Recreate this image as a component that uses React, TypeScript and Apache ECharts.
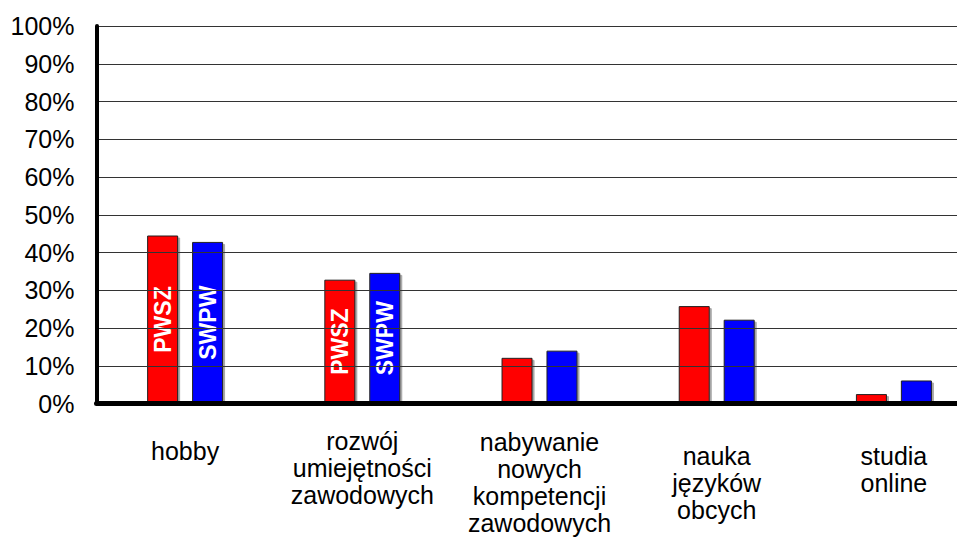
import React, { useEffect, useRef } from "react";
import * as echarts from "echarts";

const categories = [
  "hobby",
  "rozwój\numiejętności\nzawodowych",
  "nabywanie\nnowych\nkompetencji\nzawodowych",
  "nauka\njęzyków\nobcych",
  "studia\nonline",
];
const seriesNames = ["PWSZ", "SWPW"];
const pwszValues = [44.5, 32.8, 12.1, 25.8, 2.5];
const swpwValues = [42.8, 34.6, 14.0, 22.2, 6.1];
const labelledCategories = [0, 1];

// style only: extra top padding for each category label
const labelPadTop = [24, 14, 15, 29, 29];

const FONT = "'Liberation Sans', Arial, sans-serif";

export default function App() {
  const ref = useRef<HTMLDivElement>(null);
  useEffect(() => {
    if (!ref.current) return;
    const chart = echarts.init(ref.current, undefined, { renderer: "svg" });
    const makeData = (vals: number[]) =>
      vals.map((v, i) =>
        labelledCategories.includes(i) ? { value: v, label: { show: true } } : v
      );
    const barCommon = {
      type: "bar" as const,
      barWidth: 31,
      barGap: "45%",
      label: {
        show: false,
        position: "inside",
        rotate: 90,
        formatter: "{a}",
        color: "#fff",
        fontWeight: "bold",
        fontSize: 23,
        fontFamily: FONT,
      },
    };
    chart.setOption({
      animation: false,
      backgroundColor: "#fff",
      grid: {
        left: 96.5,
        top: 26,
        width: 886,
        height: 377.5,
        containLabel: false,
        outerBoundsMode: "none",
      },
      xAxis: {
        type: "category",
        data: categories.map((c, i) => ({
          value: c,
          textStyle: { padding: [labelPadTop[i], 0, 0, 0] },
        })),
        axisLine: {
          show: true,
          onZero: false,
          lineStyle: { color: "#000", width: 5 },
        },
        axisTick: { show: false },
        axisLabel: {
          interval: 0,
          margin: 10,
          fontSize: 25,
          lineHeight: 27,
          color: "#000",
          fontFamily: FONT,
          align: "center",
        },
        splitLine: { show: false },
        z: 5,
      },
      yAxis: {
        type: "value",
        min: 0,
        max: 100,
        interval: 10,
        axisLine: {
          show: true,
          lineStyle: { color: "#000", width: 4 },
        },
        axisTick: { show: false },
        axisLabel: {
          formatter: "{value}%",
          margin: 22,
          fontSize: 25,
          color: "#000",
          fontFamily: FONT,
        },
        splitLine: { show: true, lineStyle: { color: "#333", width: 1 } },
        z: 5,
      },
      series: [
        {
          ...barCommon,
          name: seriesNames[0],
          data: makeData(pwszValues),
          itemStyle: {
            color: "#FF0000",
            borderColor: "#222",
            borderWidth: 1,
            shadowColor: "rgba(0,0,0,0.35)",
            shadowOffsetX: 2,
            shadowOffsetY: 2,
            shadowBlur: 1,
          },
        },
        {
          ...barCommon,
          name: seriesNames[1],
          data: makeData(swpwValues),
          itemStyle: {
            color: "#0000FF",
            borderColor: "#222",
            borderWidth: 1,
            shadowColor: "rgba(0,0,0,0.35)",
            shadowOffsetX: 2,
            shadowOffsetY: 2,
            shadowBlur: 1,
          },
        },
      ],
    });
    return () => chart.dispose();
  }, []);
  return (
    <div
      ref={ref}
      style={{ position: "fixed", left: 0, top: 0, width: 957, height: 540 }}
    />
  );
}
